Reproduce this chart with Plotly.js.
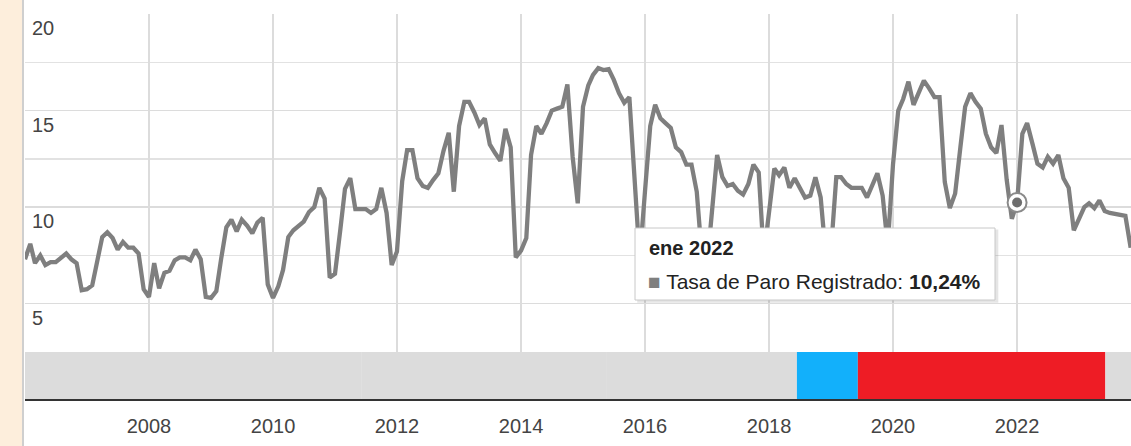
<!DOCTYPE html>
<html><head><meta charset="utf-8">
<script src="https://cdn.plot.ly/plotly-3.0.1.min.js"></script>
<style>
html,body{margin:0;padding:0;background:#fff;}
#strip{position:absolute;left:0;top:0;width:22px;height:446px;background:#fdeedc;border-right:2px solid #cfcfcf;}
#chart{position:absolute;left:0;top:0;width:1131px;height:446px;}
</style></head><body>
<div id="strip"></div>
<div id="chart"></div>
<script>
// Monthly "Tasa de Paro Registrado" (%)
const v2006 = [7.3, 8.1, 7.1, 7.5, 7.0, 7.15, 7.15, 7.4, 7.6, 7.3, 7.1, 5.7];
const v2007 = [5.75, 5.95, 7.25, 8.45, 8.7, 8.4, 7.8, 8.2, 7.9, 7.9, 7.6, 5.75];
const v2008 = [5.35, 7.1, 5.8, 6.6, 6.7, 7.25, 7.4, 7.4, 7.25, 7.8, 7.3, 5.35];
const v2009 = [5.3, 5.65, 7.3, 8.95, 9.35, 8.75, 9.35, 9.05, 8.65, 9.2, 9.45, 6.0];
const v2010 = [5.3, 5.9, 6.75, 8.45, 8.8, 9.0, 9.25, 9.75, 10.0, 11.0, 10.45, 6.35];
const v2011 = [6.55, 8.8, 10.95, 11.5, 9.9, 9.9, 9.9, 9.7, 9.9, 11.0, 9.7, 7.0];
const v2012 = [7.7, 11.35, 12.95, 12.95, 11.5, 11.1, 11.0, 11.4, 11.75, 12.9, 13.85, 10.8];
const v2013 = [14.2, 15.45, 15.45, 14.9, 14.25, 14.6, 13.25, 12.8, 12.4, 14.05, 13.1, 7.4];
const v2014 = [7.75, 8.4, 12.7, 14.2, 13.8, 14.35, 15.0, 15.1, 15.2, 16.35, 12.6, 10.2];
const v2015 = [15.2, 16.3, 16.85, 17.2, 17.1, 17.15, 16.6, 15.9, 15.4, 15.7, 11.0, 7.3];
const v2016 = [10.8, 14.2, 15.3, 14.6, 14.35, 14.1, 13.1, 12.85, 12.2, 12.2, 10.8, 7.5];
const v2017 = [7.0, 10.3, 12.7, 11.55, 11.1, 11.2, 10.85, 10.65, 11.2, 12.2, 11.8, 7.5];
const v2018 = [10.0, 12.0, 11.65, 12.05, 11.0, 11.5, 11.0, 10.5, 10.6, 11.55, 10.5, 7.5];
const v2019 = [7.8, 11.55, 11.55, 11.2, 11.0, 11.0, 11.0, 10.5, 11.1, 11.75, 10.6, 8.0];
const v2020 = [12.2, 15.0, 15.6, 16.5, 15.3, 15.95, 16.55, 16.15, 15.7, 15.7, 11.3, 9.95];
const v2021 = [10.7, 13.1, 15.2, 15.9, 15.45, 15.1, 13.8, 13.1, 12.8, 14.25, 11.4, 9.4];
const v2022 = [10.24, 13.8, 14.35, 13.3, 12.25, 12.05, 12.6, 12.25, 12.7, 11.5, 11.0, 8.8];
const v2023 = [9.45, 10.0, 10.2, 9.95, 10.35, 9.8, 9.7, 9.65, 9.6, 9.55, 7.9];

const years = [2006, 2007, 2008, 2009, 2010, 2011, 2012, 2013, 2014, 2015, 2016, 2017, 2018, 2019, 2020, 2021, 2022, 2023];
const yearValues = [v2006, v2007, v2008, v2009, v2010, v2011, v2012, v2013, v2014, v2015, v2016, v2017, v2018, v2019, v2020, v2021, v2022, v2023];
const monthNames = ['ene', 'feb', 'mar', 'abr', 'may', 'jun', 'jul', 'ago', 'sep', 'oct', 'nov', 'dic'];
const seriesName = 'Tasa de Paro Registrado';
const hoverYear = 2022;
const hoverMonth = 0;

// Government periods (bottom band)
const periodStart = ['2006-01-01', '2011-06-08', '2015-05-22', '2018-06-14', '2019-06-08', '2023-06-05'];
const periodEnd   = ['2011-06-08', '2015-05-22', '2018-06-14', '2019-06-08', '2023-06-05', '2023-11-03'];
const periodColor = ['#dcdcdc', '#dcdcdc', '#dcdcdc', '#12b0fb', '#ee1c25', '#dcdcdc'];

const xRange = ['2006-01-01', '2023-11-03'];
const yRange = [2.5, 20];

const dates = [], values = [];
yearValues.forEach((arr, i) => arr.forEach((v, m) => {
  dates.push(years[i] + '-' + String(m + 1).padStart(2, '0') + '-01');
  values.push(v);
}));
const hoverDate = hoverYear + '-' + String(hoverMonth + 1).padStart(2, '0') + '-01';
const hoverIdx = dates.indexOf(hoverDate);
const hoverValue = values[hoverIdx];

const bandFrac = 48 / 386;
const lineColor = '#7f7f7f';

const traces = [
  {x: dates, y: values, type: 'scatter', mode: 'lines', name: seriesName,
   line: {color: lineColor, width: 4.3}, hoverinfo: 'skip'},
  {x: [hoverDate], y: [hoverValue], type: 'scatter', mode: 'markers', hoverinfo: 'skip',
   marker: {size: 19, color: '#ffffff', line: {color: '#8a8a8a', width: 2}}},
  {x: [hoverDate], y: [hoverValue], type: 'scatter', mode: 'markers', hoverinfo: 'skip',
   marker: {size: 10, color: '#6e6e6e'}}
];

const shapes = periodStart.map((s, i) => ({
  type: 'rect', xref: 'x', yref: 'paper', x0: s, x1: periodEnd[i], y0: 0, y1: bandFrac,
  fillcolor: periodColor[i], line: {width: 0}, layer: 'between'
}));
// tooltip box (shadow + box)
const tb = {x0: (635 - 25) / 1106, x1: (995 - 25) / 1106, y0: (400 - 300) / 386, y1: (400 - 228) / 386};
shapes.push({type: 'rect', xref: 'paper', yref: 'paper', x0: tb.x0 + 0.002, x1: tb.x1 + 0.003, y0: tb.y0 - 0.007, y1: tb.y1 - 0.004,
  fillcolor: 'rgba(0,0,0,0.10)', line: {width: 0}, layer: 'above'});
shapes.push({type: 'rect', xref: 'paper', yref: 'paper', x0: tb.x0, x1: tb.x1, y0: tb.y0, y1: tb.y1,
  fillcolor: '#ffffff', line: {color: '#c8c8c8', width: 1}, layer: 'above'});

const valueText = hoverValue.toFixed(2).replace('.', ',') + '%';
const annotations = [
  {xref: 'paper', yref: 'paper', x: (647 - 25) / 1106, y: (400 - 248) / 386, xanchor: 'left', yanchor: 'middle',
   showarrow: false, text: '<b>' + monthNames[hoverMonth] + ' ' + hoverYear + '</b>',
   font: {size: 20, color: '#222'}},
  {xref: 'paper', yref: 'paper', x: (646 - 25) / 1106, y: (400 - 281) / 386, xanchor: 'left', yanchor: 'middle',
   showarrow: false,
   text: '<span style="color:' + lineColor + '">■</span> ' + seriesName + ': <b>' + valueText + '</b>',
   font: {size: 21, color: '#222'}}
];

const layout = {
  width: 1131, height: 446,
  margin: {l: 25, r: 0, t: 14, b: 46, pad: 0},
  paper_bgcolor: 'rgba(0,0,0,0)', plot_bgcolor: '#ffffff',
  showlegend: false,
  font: {family: '"Liberation Sans", Arial, sans-serif', size: 20, color: '#444'},
  xaxis: {type: 'date', range: xRange, dtick: 'M24', tick0: '2008-01-01', tickformat: '%Y',
    anchor: 'free', position: 0,
    showgrid: true, gridcolor: '#dcdcdc', gridwidth: 1.5,
    showline: true, linecolor: '#333', linewidth: 2,
    ticks: 'outside', ticklen: 8, tickcolor: 'rgba(0,0,0,0)',
    tickfont: {size: 20, color: '#444'}, zeroline: false, fixedrange: true},
  yaxis: {domain: [bandFrac, 1], range: yRange, dtick: 5, tick0: 0,
    ticklabelposition: 'inside bottom', ticklabelstandoff: 4,
    showgrid: true, gridcolor: '#dcdcdc', gridwidth: 1.5,
    minor: {dtick: 2.5, showgrid: true, gridcolor: '#e2e2e2', gridwidth: 1.5},
    zeroline: false, showline: false, ticks: '',
    tickfont: {size: 20, color: '#444'}, fixedrange: true},
  shapes: shapes,
  annotations: annotations
};

Plotly.newPlot('chart', traces, layout, {displayModeBar: false, staticPlot: true});
</script>
</body></html>
